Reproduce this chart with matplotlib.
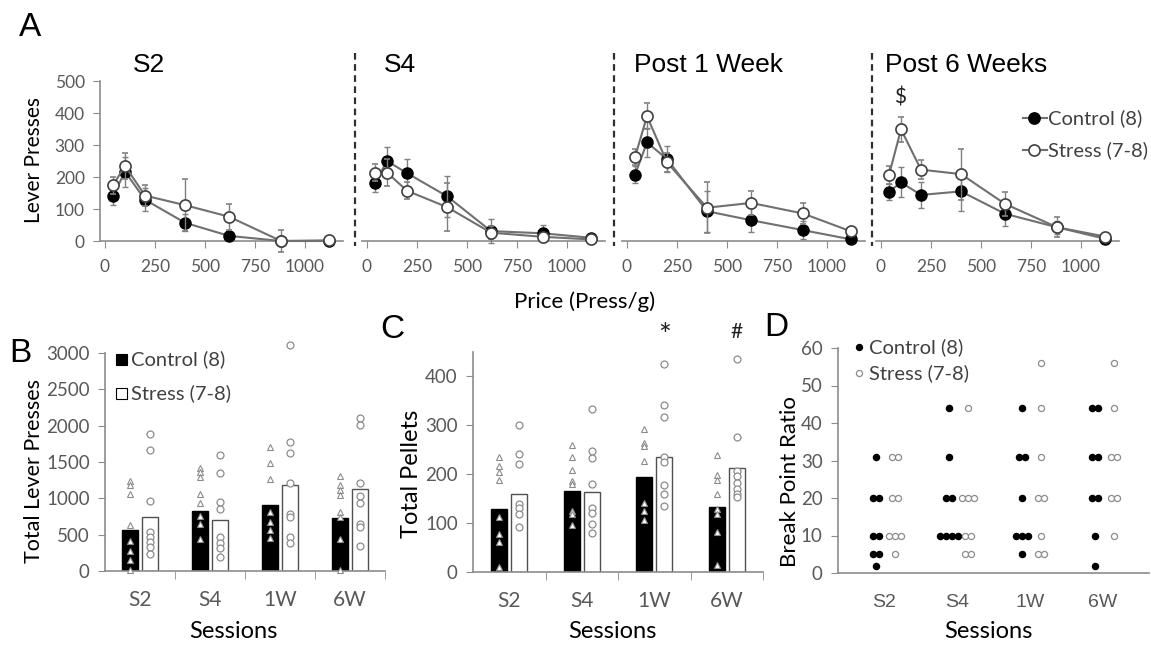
import matplotlib
matplotlib.use("Agg")
import matplotlib.pyplot as plt
from matplotlib.lines import Line2D
from matplotlib.patches import Rectangle

# ---------------- data ----------------
price = [40, 100, 200, 400, 620, 880, 1120]
a_titles = ["S2", "S4", "Post 1 Week", "Post 6 Weeks"]
a_xticks = [0, 250, 500, 750, 1000]
a_yticks = [0, 100, 200, 300, 400, 500]

s2_ctrl = [140, 217, 129, 57, 16, 0, 0]
s2_ctrl_err = [29, 47, 36, 26, 5, 0, 0]
s2_stress = [174, 235, 142, 112, 76, 0, 2]
s2_stress_err = [26, 41, 34, 82, 41, 34, 0]

s4_ctrl = [181, 250, 212, 140, 31, 24, 10]
s4_ctrl_err = [28, 45, 45, 64, 38, 26, 5]
s4_stress = [214, 214, 157, 106, 26, 13, 5]
s4_stress_err = [26, 41, 26, 76, 20, 10, 3]

w1_ctrl = [207, 308, 256, 93, 65, 34, 5]
w1_ctrl_err = [26, 45, 40, 64, 37, 29, 3]
w1_stress = [262, 390, 246, 104, 119, 86, 30]
w1_stress_err = [25, 40, 30, 80, 38, 33, 5]

w6_ctrl = [154, 183, 144, 155, 85, 43, 7]
w6_ctrl_err = [25, 47, 40, 62, 38, 20, 3]
w6_stress = [206, 349, 223, 209, 116, 43, 14]
w6_stress_err = [29, 39, 30, 80, 38, 31, 5]

sessions = ["S2", "S4", "1W", "6W"]

# Panel B: total lever presses
b_ctrl_mean = [560, 821, 913, 734]
b_stress_mean = [743, 706, 1179, 1133]
b_ctrl_s2 = [1240, 1190, 1060, 630, 410, 280, 150, 20]
b_ctrl_s4 = [1420, 1360, 1300, 1060, 940, 760, 640, 440]
b_ctrl_1w = [1710, 1480, 1260, 810, 670, 560, 450]
b_ctrl_6w = [1310, 1180, 1120, 1050, 810, 740, 440, 20]
b_stress_s2 = [1880, 1670, 960, 540, 470, 400, 330, 240]
b_stress_s4 = [1590, 1350, 950, 850, 470, 390, 310, 190]
b_stress_1w = [3115, 1775, 1620, 1210, 780, 740, 470, 390]
b_stress_6w = [2100, 2010, 1210, 1030, 940, 640, 600, 340]
b_yticks = [0, 500, 1000, 1500, 2000, 2500, 3000]

# Panel C: total pellets
c_ctrl_mean = [128, 165, 194, 133]
c_stress_mean = [159, 164, 236, 213]
c_ctrl_s2 = [235, 217, 204, 188, 112, 78, 61, 10]
c_ctrl_s4 = [259, 235, 208, 187, 181, 125, 119, 97]
c_ctrl_1w = [293, 264, 258, 228, 141, 125, 107]
c_ctrl_6w = [239, 198, 189, 160, 129, 119, 82, 14]
c_stress_s2 = [300, 242, 221, 140, 131, 119, 92]
c_stress_s4 = [333, 247, 234, 181, 131, 121, 99, 80]
c_stress_1w = [425, 341, 317, 236, 225, 177, 159, 136]
c_stress_6w = [436, 277, 206, 196, 183, 169, 159, 153]
c_yticks = [0, 100, 200, 300, 400]

# Panel D: break point ratio
d_ctrl_s2 = [31, 20, 20, 10, 10, 5, 5, 2]
d_ctrl_s4 = [44, 31, 20, 20, 10, 10, 10, 10]
d_ctrl_1w = [44, 31, 31, 20, 10, 10, 10, 5]
d_ctrl_6w = [44, 44, 31, 31, 20, 20, 10, 2]
d_stress_s2 = [31, 31, 20, 20, 10, 10, 10, 5]
d_stress_s4 = [44, 20, 20, 20, 10, 10, 5, 5]
d_stress_1w = [56, 44, 31, 20, 20, 10, 5, 5]
d_stress_6w = [56, 44, 31, 31, 20, 20, 10]
d_yticks = [0, 10, 20, 30, 40, 50, 60]

# ---------------- style ----------------
W, H = 1151, 646
FONT = ["Lato", "DejaVu Sans"]
AFONT = ["Liberation Sans", "DejaVu Sans"]
TXT = "#595959"
AXC = "#8c8c8c"
LINE = "#707070"
plt.rcParams["font.family"] = FONT

fig = plt.figure(figsize=(W / 100, H / 100), dpi=100)


def box(l, t, r, b):
    return [l / W, 1 - b / H, (r - l) / W, (b - t) / H]


def ftext(x, y, s, **kw):
    fig.text(x / W, 1 - y / H, s, **kw)


# ---------------- Panel A ----------------
a_boxes = [(100, 81, 343, 241), (362, 81, 605, 241), (622, 81, 865, 241), (876, 81, 1119, 241)]
a_ctrl = [s2_ctrl, s4_ctrl, w1_ctrl, w6_ctrl]
a_ctrl_err = [s2_ctrl_err, s4_ctrl_err, w1_ctrl_err, w6_ctrl_err]
a_stress = [s2_stress, s4_stress, w1_stress, w6_stress]
a_stress_err = [s2_stress_err, s4_stress_err, w1_stress_err, w6_stress_err]
a_title_x = [133, 384, 634, 885]

for i, bx in enumerate(a_boxes):
    ax = fig.add_axes(box(*bx))
    ax.errorbar(price, a_ctrl[i], yerr=a_ctrl_err[i], fmt="-o", color=LINE, lw=1.5,
                mfc="black", mec="black", ms=8, ecolor="#808080", elinewidth=1,
                capsize=2.5, capthick=1, clip_on=False, zorder=3)
    ax.errorbar(price, a_stress[i], yerr=a_stress_err[i], fmt="-o", color=LINE, lw=1.5,
                mfc="white", mec="#404040", mew=1.2, ms=8, ecolor="#808080", elinewidth=1,
                capsize=2.5, capthick=1, clip_on=False, zorder=4)
    ax.set_xlim(-25, 1190)
    ax.set_ylim(0, 500)
    ax.set_xticks(a_xticks)
    for s in ["top", "right"]:
        ax.spines[s].set_visible(False)
    ax.spines["bottom"].set_color(AXC)
    ax.spines["bottom"].set_linewidth(1.2)
    ax.tick_params(axis="x", direction="out", length=5, color=AXC, labelcolor=TXT,
                   labelsize=12.5, pad=8)
    if i == 0:
        ax.set_yticks(a_yticks)
        ax.spines["left"].set_color(AXC)
        ax.spines["left"].set_linewidth(1.2)
        ax.tick_params(axis="y", direction="out", length=5, color=AXC, labelcolor=TXT,
                       labelsize=12.5, pad=6)
    else:
        ax.spines["left"].set_visible(False)
        ax.set_yticks([])
    ax.patch.set_alpha(0)
    ftext(a_title_x[i], 65, a_titles[i], fontsize=19, family=AFONT, va="center", ha="left")

# dashed separators
for xs in [355, 614, 872]:
    fig.add_artist(Line2D([xs / W, xs / W], [1 - 53 / H, 1 - 246 / H], transform=fig.transFigure,
                          color="#303030", lw=1.6, ls=(0, (3, 2))))

ftext(900, 97, "$", fontsize=15, va="center", ha="center", color="#202020")
ftext(30, 27, "A", fontsize=24, family=AFONT, va="center", ha="center")
ftext(34, 160, "Lever Presses", fontsize=15, rotation=90, va="center", ha="center")
ftext(585, 302, "Price (Press/g)", fontsize=16, va="center", ha="center")

# legend A
for yy, fc, lab in [(118, "black", "Control (8)"), (150, "white", "Stress (7-8)")]:
    fig.add_artist(Line2D([1023 / W, 1047 / W], [1 - yy / H, 1 - yy / H], transform=fig.transFigure,
                          color=LINE, lw=1.5))
    fig.add_artist(Line2D([1034 / W], [1 - yy / H], transform=fig.transFigure, marker="o",
                          ms=8, mfc=fc, mec="black" if fc == "black" else "#404040", mew=1.2, lw=0))
    ftext(1048, yy, lab, fontsize=14.5, va="center", ha="left", color="#404040")


# ---------------- helper for bar panels ----------------
def bar_panel(bx, ctrl_mean, stress_mean, ctrl_pts, stress_pts, ylim, yticks, off, width):
    ax = fig.add_axes(box(*bx))
    xs = range(len(sessions))
    ax.bar([x - off for x in xs], ctrl_mean, width=width, color="black", edgecolor="black", zorder=2)
    ax.bar([x + off for x in xs], stress_mean, width=width, color="white", edgecolor="#505050",
           lw=1.0, zorder=2)
    for x, pts in zip(xs, ctrl_pts):
        ax.plot([x - off] * len(pts), pts, ls="none", marker="^", ms=5, mfc="white", mec="#8c8c8c",
                mew=0.8, clip_on=False, zorder=3)
    for x, pts in zip(xs, stress_pts):
        ax.plot([x + off] * len(pts), pts, ls="none", marker="o", ms=5, mfc="white", mec="#8c8c8c",
                mew=0.9, clip_on=False, zorder=3)
    ax.set_xlim(-0.5, len(sessions) - 0.5)
    ax.set_ylim(*ylim)
    ax.set_yticks(yticks)
    ax.set_xticks(list(xs))
    ax.set_xticklabels(sessions)
    ax.set_xticks([0.5, 1.5, 2.5, 3.5], minor=True)
    for s in ["top", "right"]:
        ax.spines[s].set_visible(False)
    for s in ["left", "bottom"]:
        ax.spines[s].set_color(AXC)
        ax.spines[s].set_linewidth(1.2)
    ax.tick_params(axis="x", which="major", length=0, labelcolor=TXT, labelsize=15, pad=14)
    ax.tick_params(axis="x", which="minor", length=6, color=AXC, direction="out")
    ax.tick_params(axis="y", length=5, color=AXC, labelcolor=TXT, labelsize=13.5, pad=6)
    ax.patch.set_alpha(0)
    return ax


# ---------------- Panel B ----------------
bar_panel((105, 353, 385, 571), b_ctrl_mean, b_stress_mean,
          [b_ctrl_s2, b_ctrl_s4, b_ctrl_1w, b_ctrl_6w],
          [b_stress_s2, b_stress_s4, b_stress_1w, b_stress_6w],
          (0, 3000), b_yticks, 0.143, 0.215)
ftext(20, 353, "B", fontsize=24, family=AFONT, va="center", ha="center")
ftext(34, 471, "Total Lever Presses", fontsize=15.5, rotation=90, va="center", ha="center")
ftext(233, 631, "Sessions", fontsize=17, va="center", ha="center")
for yy, fc, lab in [(359, "black", "Control (8)"), (393, "white", "Stress (7-8)")]:
    fig.add_artist(Rectangle((116 / W, 1 - (yy + 6) / H), 11 / W, 11 / H, transform=fig.transFigure,
                             fc=fc, ec="black", lw=0.8))
    ftext(131, yy, lab, fontsize=14.5, va="center", ha="left", color="#404040")

# ---------------- Panel C ----------------
bar_panel((473, 352, 763, 572), c_ctrl_mean, c_stress_mean,
          [c_ctrl_s2, c_ctrl_s4, c_ctrl_1w, c_ctrl_6w],
          [c_stress_s2, c_stress_s4, c_stress_1w, c_stress_6w],
          (0, 450), c_yticks, 0.138, 0.22)
ftext(392, 330, "C", fontsize=24, family=AFONT, va="center", ha="center")
ftext(411, 474, "Total Pellets", fontsize=17, rotation=90, va="center", ha="center")
ftext(612, 631, "Sessions", fontsize=17, va="center", ha="center")
ftext(665, 336, "*", fontsize=22, va="center", ha="center", color="#202020")
ftext(737, 332, "#", fontsize=15, va="center", ha="center", color="#202020")

# ---------------- Panel D ----------------
axd = fig.add_axes(box(838, 348, 1149, 573))
d_ctrl = [d_ctrl_s2, d_ctrl_s4, d_ctrl_1w, d_ctrl_6w]
d_stress = [d_stress_s2, d_stress_s4, d_stress_1w, d_stress_6w]
STEP = 0.078
SOFF = 0.26


def spread(vals, center):
    xs, ys = [], []
    for v in sorted(set(vals)):
        n = vals.count(v)
        for k in range(n):
            xs.append(center + (k - (n - 1) / 2) * STEP)
            ys.append(v)
    return xs, ys


for i in range(len(sessions)):
    x, y = spread(d_ctrl[i], i)
    axd.plot(x, y, ls="none", marker="o", ms=4.4, mfc="black", mec="black", clip_on=False)
    x, y = spread(d_stress[i], i + SOFF)
    axd.plot(x, y, ls="none", marker="o", ms=4.4, mfc="white", mec="#8c8c8c", mew=0.9, clip_on=False)
axd.set_xlim(-0.52, 3.74)
axd.set_ylim(0, 60)
axd.set_yticks(d_yticks)
axd.set_xticks([i + 0.11 for i in range(len(sessions))])
axd.set_xticklabels(sessions, family=AFONT)
for s in ["top", "right"]:
    axd.spines[s].set_visible(False)
for s in ["left", "bottom"]:
    axd.spines[s].set_color(AXC)
    axd.spines[s].set_linewidth(1.2)
axd.tick_params(axis="x", length=0, labelcolor=TXT, labelsize=14, pad=15)
axd.tick_params(axis="y", length=5, color=AXC, labelcolor=TXT, labelsize=13.5, pad=6)
axd.patch.set_alpha(0)
ftext(776, 328, "D", fontsize=24, family=AFONT, va="center", ha="center")
ftext(790, 482, "Break Point Ratio", fontsize=16, rotation=90, va="center", ha="center")
ftext(988, 631, "Sessions", fontsize=17, va="center", ha="center")
for yy, fc, ec, lab in [(347, "black", "black", "Control (8)"), (373, "white", "#8c8c8c", "Stress (7-8)")]:
    fig.add_artist(Line2D([859 / W], [1 - yy / H], transform=fig.transFigure, marker="o",
                          ms=4.4, mfc=fc, mec=ec, mew=0.9, lw=0))
    ftext(869, yy, lab, fontsize=14.5, va="center", ha="left", color="#404040")

fig.savefig("out.png", dpi=100)
